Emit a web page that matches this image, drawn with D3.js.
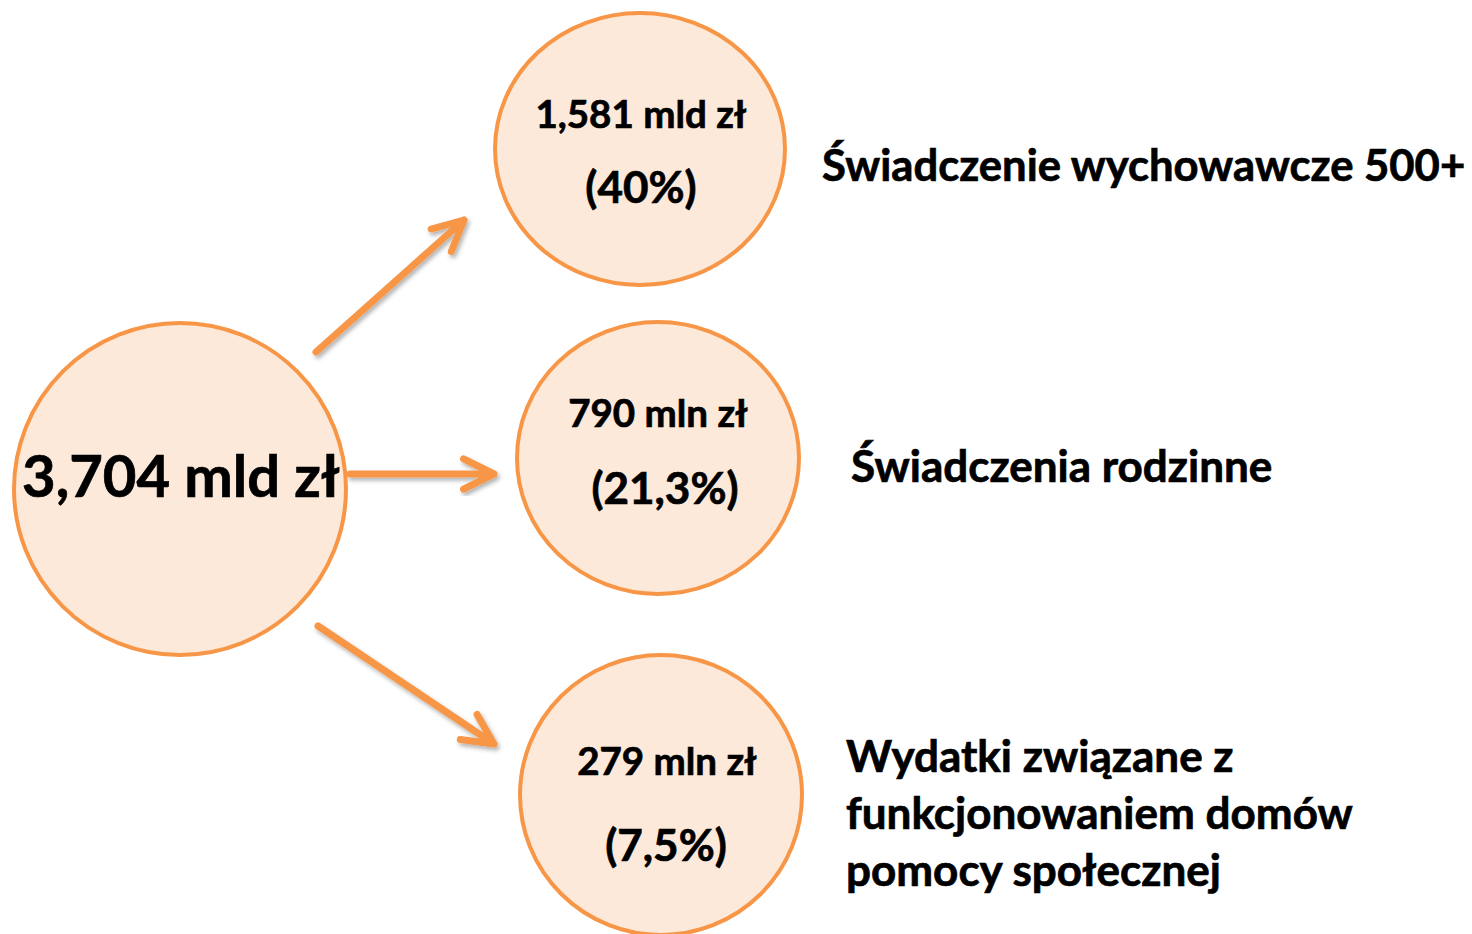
<!DOCTYPE html>
<html>
<head>
<meta charset="utf-8">
<script src="https://cdn.jsdelivr.net/npm/d3@7"></script>
<style>
  html, body { margin: 0; padding: 0; background: #fff; }
  svg { display: block; }
  text { font-family: Lato, "Noto Sans", sans-serif; font-weight: 700; fill: #000; stroke: #000; stroke-width: 0.7px; }
</style>
</head>
<body>
<script>
const width = 1472;
const height = 934;

// dane
const total = "3,704 mld zł";
const categories = ["Świadczenie wychowawcze 500+", "Świadczenia rodzinne", "Wydatki związane z funkcjonowaniem domów pomocy społecznej"];
const labelLines = [["Świadczenie wychowawcze 500+"], ["Świadczenia rodzinne"], ["Wydatki związane z", "funkcjonowaniem domów", "pomocy społecznej"]];
const amounts = ["1,581 mld zł", "790 mln zł", "279 mln zł"];
const shares = ["(40%)", "(21,3%)", "(7,5%)"];

const orange = "#f79646";
const fill = "#fde9d9";

// układ
const cy = d3.scaleOrdinal().domain(categories).range([149, 458, 795]);
const cx = d3.scaleOrdinal().domain(categories).range([640, 658, 661]);
const rx = d3.scaleOrdinal().domain(categories).range([145, 141, 141]);
const ry = d3.scaleOrdinal().domain(categories).range([136, 136, 140]);
const labelX = d3.scaleOrdinal().domain(categories).range([822, 851, 846]);
const labelY = d3.scaleOrdinal().domain(categories).range([181, 482, 772]);
const labelSize = d3.scaleOrdinal().domain(categories).range([43.6, 44, 44]);
const amountX = d3.scaleOrdinal().domain(categories).range([641, 658, 667]);
const shareX = d3.scaleOrdinal().domain(categories).range([641, 665, 666]);
const amountY = d3.scaleOrdinal().domain(categories).range([128, 427, 775]);
const shareY = d3.scaleOrdinal().domain(categories).range([203, 504, 861]);
const arrowFrom = d3.scaleOrdinal().domain(categories).range([[316, 352], [350, 474], [318, 626]]);
const arrowTo = d3.scaleOrdinal().domain(categories).range([[464, 220], [494, 474], [494, 744]]);

const svg = d3.select("body").append("svg")
  .attr("width", width)
  .attr("height", height);

const defs = svg.append("defs");
defs.append("filter")
  .attr("id", "shadow")
  .attr("x", "-20%").attr("y", "-20%").attr("width", "140%").attr("height", "140%")
  .append("feDropShadow")
  .attr("dx", 2).attr("dy", 3).attr("stdDeviation", 2)
  .attr("flood-color", "#000").attr("flood-opacity", 0.3);

// strzałki
const arrowPath = d => {
  const [x0, y0] = arrowFrom(d), [x1, y1] = arrowTo(d);
  const a = Math.atan2(y1 - y0, x1 - x0);
  const len = 34, spread = 0.46;
  const p = d3.path();
  p.moveTo(x0, y0);
  p.lineTo(x1, y1);
  p.moveTo(x1 - len * Math.cos(a - spread), y1 - len * Math.sin(a - spread));
  p.lineTo(x1, y1);
  p.lineTo(x1 - len * Math.cos(a + spread), y1 - len * Math.sin(a + spread));
  return p.toString();
};

svg.append("g")
  .selectAll("path")
  .data(categories)
  .join("path")
  .attr("d", arrowPath)
  .attr("fill", "none")
  .attr("stroke", orange)
  .attr("stroke-width", 7)
  .attr("stroke-linecap", "round")
  .attr("stroke-linejoin", "round")
  .attr("filter", "url(#shadow)");

// duże koło
svg.append("circle")
  .attr("cx", 180).attr("cy", 489).attr("r", 166)
  .attr("fill", fill)
  .attr("stroke", orange)
  .attr("stroke-width", 4);

svg.append("text")
  .attr("x", 181).attr("y", 497)
  .attr("text-anchor", "middle")
  .attr("font-size", 58)
  .text(total);

// małe koła
const nodes = svg.append("g")
  .selectAll("g")
  .data(categories)
  .join("g");

nodes.append("ellipse")
  .attr("cx", d => cx(d))
  .attr("cy", d => cy(d))
  .attr("rx", d => rx(d))
  .attr("ry", d => ry(d))
  .attr("fill", fill)
  .attr("stroke", orange)
  .attr("stroke-width", 4);

nodes.append("text")
  .attr("x", d => amountX(d))
  .attr("y", d => amountY(d))
  .attr("text-anchor", "middle")
  .attr("font-size", 38.5)
  .text((d, i) => amounts[i]);

nodes.append("text")
  .attr("x", d => shareX(d))
  .attr("y", d => shareY(d))
  .attr("text-anchor", "middle")
  .attr("font-size", 44)
  .text((d, i) => shares[i]);

// opisy
nodes.append("text")
  .attr("x", d => labelX(d))
  .attr("y", d => labelY(d))
  .attr("font-size", d => labelSize(d))
  .selectAll("tspan")
  .data((d, i) => labelLines[i].map(t => ({t, x: labelX(d)})))
  .join("tspan")
  .attr("x", d => d.x)
  .attr("dy", (d, i) => i === 0 ? 0 : 57)
  .text(d => d.t);
</script>
</body>
</html>
